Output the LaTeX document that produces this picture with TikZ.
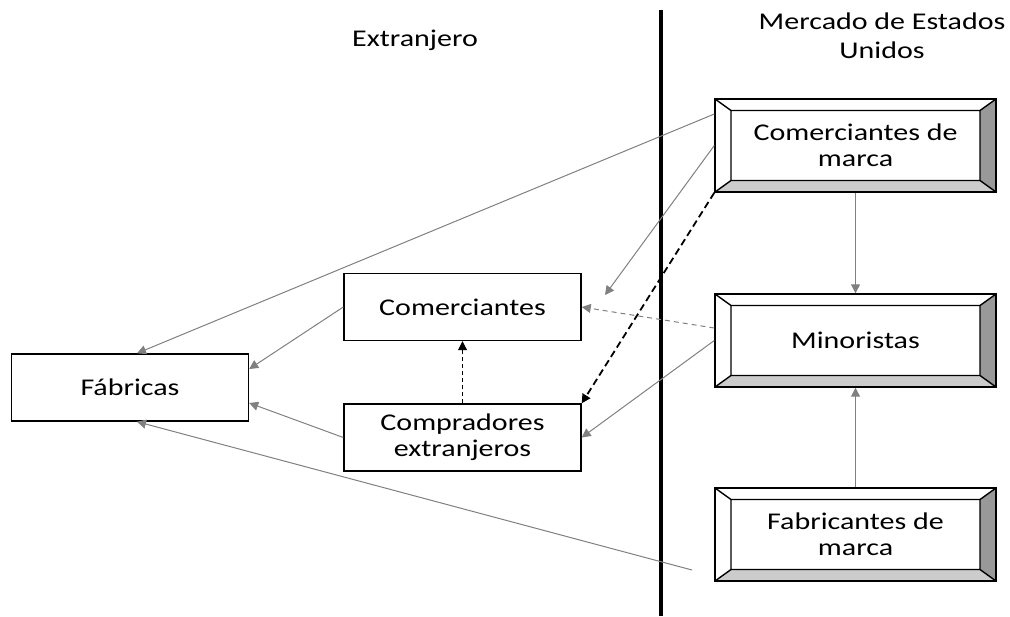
\documentclass[tikz,border=0pt]{standalone}
\usepackage{fontspec}
\setmainfont{Carlito}[FakeStretch=1.25]
\usetikzlibrary{arrows.meta}

\definecolor{linegray}{gray}{0.5}
\definecolor{sidedark}{gray}{0.6}
\definecolor{sidelight}{gray}{0.8}

\tikzset{
  plainbox/.style={draw, line width=0.7pt, minimum width=118.5pt, minimum height=33.5pt,
    inner sep=0pt, align=center, font=\fontsize{12}{13}\selectfont},
  bevelbox/.style={draw, line width=0.7pt, minimum width=140.5pt, minimum height=46.5pt,
    inner sep=0pt, align=center, font=\fontsize{12}{13}\selectfont,
    path picture={
      \coordinate (bnw) at (path picture bounding box.north west);
      \coordinate (bne) at (path picture bounding box.north east);
      \coordinate (bsw) at (path picture bounding box.south west);
      \coordinate (bse) at (path picture bounding box.south east);
      \coordinate (inw) at ([shift={(8pt,-5.75pt)}]bnw);
      \coordinate (ine) at ([shift={(-8pt,-5.75pt)}]bne);
      \coordinate (isw) at ([shift={(8pt,5.75pt)}]bsw);
      \coordinate (ise) at ([shift={(-8pt,5.75pt)}]bse);
      \fill[sidedark] (bne) -- (bse) -- (ise) -- (ine) -- cycle;
      \fill[sidelight] (bsw) -- (bse) -- (ise) -- (isw) -- cycle;
      \draw[line width=0.7pt] (inw) rectangle (ise)
        (bnw) -- (inw) (bne) -- (ine) (bsw) -- (isw) (bse) -- (ise);
    }},
  tip/.style={-{Triangle[length=4.5pt,width=4.5pt]}},
  link/.style={tip, draw=linegray, line width=0.5pt},
  heading/.style={align=center, font=\fontsize{12}{14.5}\selectfont},
}

\begin{document}
\begin{tikzpicture}[x=0.5pt, y=-0.5pt]
        \useasboundingbox (0,0) rectangle (1010,616);
        % border line
        \draw [line width=2pt] (661,10) -- (661,616);
        \node [heading] (abroad) at (415,40) {Extranjero};
        \node [heading] (usmarket) at (882,36) {Mercado de Estados\\Unidos};
        % boxes on the left
        \node [plainbox] (fab) at (130,387.5) {Fábricas};
        \node [plainbox] (com) at (462.5,307) {Comerciantes};
        \node [plainbox] (comp) at (462.5,437.5) {Compradores\\extranjeros};
        % boxes on the right
        \node [bevelbox] (cdm) at (855.5,145.5) {Comerciantes de\\marca};
        \node [bevelbox] (mino) at (855.5,340.5) {Minoristas};
        \node [bevelbox] (fdm) at (855.5,534.5) {Fabricantes de\\marca};
        \coordinate (comtip) at (605,295);
        \coordinate (fdmend) at (692,570);
        % connectors
        \draw [link] ([yshift=15.75pt]cdm.west) -- ([xshift=3.5pt]fab.north);
        \draw [link] (cdm.west) -- (comtip);
        \draw [tip, line width=0.9pt, dash pattern=on 3.5pt off 2pt] (cdm.south west) -- (comp.north east);
        \draw [link, dash pattern=on 2.5pt off 2pt] ([yshift=6.25pt]mino.west) -- (com.east);
        \draw [link] (mino.west) -- (comp.east);
        \draw [link] (cdm.south) -- (mino.north);
        \draw [link] (fdm.north) -- (mino.south);
        \draw [link] (fdmend) -- ([xshift=3.5pt]fab.south);
        \draw [link] (com.west) -- ([yshift=9.25pt]fab.east);
        \draw [link] (comp.west) -- ([yshift=-7.75pt]fab.east);
        \draw [tip, line width=0.5pt, dash pattern=on 2pt off 1.5pt] (comp.north) -- (com.south);
    \end{tikzpicture}
\end{document}
